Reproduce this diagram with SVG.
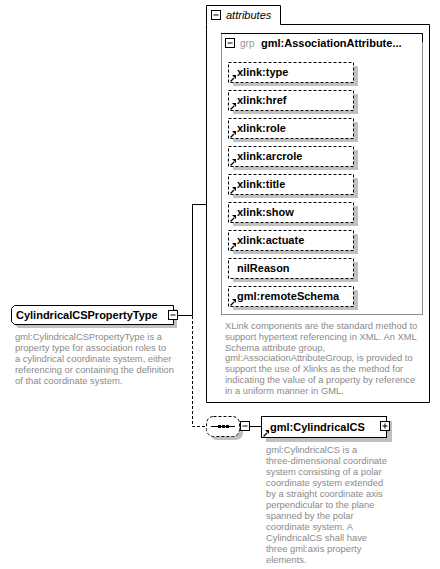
<svg xmlns="http://www.w3.org/2000/svg" xmlns:xlink="http://www.w3.org/1999/xlink" width="440" height="569" viewBox="0 0 440 569">
<style>
  .lbl { font-family: "Liberation Sans", Arial, sans-serif; font-size: 11px; font-weight: bold; fill: #000; }
  .desc { font-family: "Liberation Sans", Arial, sans-serif; font-size: 9.4px; fill: #8a8a8a; }
  .attr { fill: #fff; stroke: #000; stroke-width: 1; stroke-dasharray: 3,2; }
  .shadow { fill: #c0c0c0; }
  .btn { fill: #fff; stroke: #000; stroke-width: 1; }
  .ln { stroke: #000; stroke-width: 1; fill: none; }
  .dash { stroke: #000; stroke-width: 1; fill: none; stroke-dasharray: 3,2; }
</style>
<defs>
  <g id="ref">
    <path d="M0.5,6.5 L4,3" stroke="#000" stroke-width="1.3" fill="none"/>
    <polygon points="2,0 6,0 6,4" fill="#000"/>
  </g>
  <g id="minus">
    <rect x="0.5" y="0.5" width="9" height="9" class="btn"/>
    <path d="M2.5,5 H7.5" stroke="#000" stroke-width="1"/>
  </g>
  <g id="plus">
    <rect x="0.5" y="0.5" width="9" height="9" class="btn"/>
    <path d="M2.5,5 H7.5 M5,2.5 V7.5" stroke="#000" stroke-width="1"/>
  </g>
</defs>
<rect width="440" height="569" fill="#fff"/>

<g id="connectors">
  <path class="ln" d="M178,315.5 H192.5 V204.5 H206"/>
  <path class="dash" d="M192.5,316 V426.5 H206"/>
  <path class="ln" d="M250,426.5 H261"/>
</g>

<g id="attributes">
  <path d="M206.5,24.5 V5.5 H280.5 V24.5 H429.5 V402.5 H206.5 Z" fill="#fff" stroke="#000" stroke-width="1"/>
  <use href="#minus" x="211" y="10"/>
  <text x="226" y="19" font-family="Liberation Sans, Arial, sans-serif" font-size="11" font-style="italic">attributes</text>
  <text class="desc" x="225" y="329">XLink components are the standard method to</text>
  <text class="desc" x="225" y="339.8">support hypertext referencing in XML. An XML</text>
  <text class="desc" x="225" y="350.6">Schema attribute group,</text>
  <text class="desc" x="225" y="361.4">gml:AssociationAttributeGroup, is provided to</text>
  <text class="desc" x="225" y="372.2">support the use of Xlinks as the method for</text>
  <text class="desc" x="225" y="383">indicating the value of a property by reference</text>
  <text class="desc" x="225" y="393.8">in a uniform manner in GML.</text>
</g>

<g id="grp-AssociationAttributeGroup">
  <rect x="221.5" y="33.5" width="201" height="281" fill="#fff" stroke="#8c8c8c" stroke-width="1"/>
  <path d="M221,33.5 H422.5 V42" stroke="#000" stroke-width="1" fill="none"/>
  <use href="#minus" x="225" y="38"/>
  <text x="240" y="47" font-family="Liberation Sans, Arial, sans-serif" font-size="10" fill="#999">grp</text>
  <text class="lbl" x="261" y="47">gml:AssociationAttribute...</text>
</g>

<g id="attr-xlink-type">
  <rect class="shadow" x="233" y="66" width="125" height="20"/>
  <rect class="attr" x="228.5" y="62.5" width="125" height="20"/>
  <use href="#ref" x="230" y="75"/>
  <text class="lbl" x="237" y="76">xlink:type</text>
</g>
<g id="attr-xlink-href">
  <rect class="shadow" x="233" y="94" width="125" height="20"/>
  <rect class="attr" x="228.5" y="90.5" width="125" height="20"/>
  <use href="#ref" x="230" y="103"/>
  <text class="lbl" x="237" y="104">xlink:href</text>
</g>
<g id="attr-xlink-role">
  <rect class="shadow" x="233" y="122" width="125" height="20"/>
  <rect class="attr" x="228.5" y="118.5" width="125" height="20"/>
  <use href="#ref" x="230" y="131"/>
  <text class="lbl" x="237" y="132">xlink:role</text>
</g>
<g id="attr-xlink-arcrole">
  <rect class="shadow" x="233" y="150" width="125" height="20"/>
  <rect class="attr" x="228.5" y="146.5" width="125" height="20"/>
  <use href="#ref" x="230" y="159"/>
  <text class="lbl" x="237" y="160">xlink:arcrole</text>
</g>
<g id="attr-xlink-title">
  <rect class="shadow" x="233" y="178" width="125" height="20"/>
  <rect class="attr" x="228.5" y="174.5" width="125" height="20"/>
  <use href="#ref" x="230" y="187"/>
  <text class="lbl" x="237" y="188">xlink:title</text>
</g>
<g id="attr-xlink-show">
  <rect class="shadow" x="233" y="206" width="125" height="20"/>
  <rect class="attr" x="228.5" y="202.5" width="125" height="20"/>
  <use href="#ref" x="230" y="215"/>
  <text class="lbl" x="237" y="216">xlink:show</text>
</g>
<g id="attr-xlink-actuate">
  <rect class="shadow" x="233" y="234" width="125" height="20"/>
  <rect class="attr" x="228.5" y="230.5" width="125" height="20"/>
  <use href="#ref" x="230" y="243"/>
  <text class="lbl" x="237" y="244">xlink:actuate</text>
</g>
<g id="attr-nilReason">
  <rect class="shadow" x="233" y="262" width="125" height="20"/>
  <rect class="attr" x="228.5" y="258.5" width="125" height="20"/>
  <text class="lbl" x="237" y="272">nilReason</text>
</g>
<g id="attr-gml-remoteSchema">
  <rect class="shadow" x="233" y="290" width="125" height="20"/>
  <rect class="attr" x="228.5" y="286.5" width="125" height="20"/>
  <use href="#ref" x="230" y="299"/>
  <text class="lbl" x="237" y="300">gml:remoteSchema</text>
</g>

<g id="CylindricalCSPropertyType">
  <path class="shadow" d="M18,309 H177 V328 H18 L15,325 V312 Z"/>
  <path d="M14.5,305.5 H173.5 V324.5 H14.5 L11.5,321.5 V308.5 Z" fill="#fff" stroke="#000" stroke-width="1"/>
  <text class="lbl" x="16" y="319">CylindricalCSPropertyType</text>
  <use href="#minus" x="168" y="310"/>
  <text class="desc" x="15" y="340">gml:CylindricalCSPropertyType is a</text>
  <text class="desc" x="15" y="351">property type for association roles to</text>
  <text class="desc" x="15" y="362">a cylindrical coordinate system, either</text>
  <text class="desc" x="15" y="373">referencing or containing the definition</text>
  <text class="desc" x="15" y="384">of that coordinate system.</text>
</g>

<g id="sequence">
  <rect class="shadow" x="210" y="420" width="33" height="20" rx="7"/>
  <rect x="206.5" y="416.5" width="33" height="20" rx="7" fill="#fff" stroke="#000" stroke-width="1" stroke-dasharray="3,2"/>
  <path d="M211,426.5 H235" stroke="#000" stroke-width="1"/>
  <rect x="218" y="425" width="3" height="3" fill="#000"/>
  <rect x="222" y="425" width="3" height="3" fill="#000"/>
  <rect x="226" y="425" width="3" height="3" fill="#000"/>
  <use href="#minus" x="240" y="421"/>
</g>

<g id="gml-CylindricalCS">
  <rect class="shadow" x="266" y="421" width="126" height="21"/>
  <rect x="261.5" y="416.5" width="125" height="21" fill="#fff" stroke="#000" stroke-width="1"/>
  <use href="#ref" x="263" y="430"/>
  <text class="lbl" x="270" y="431">gml:CylindricalCS</text>
  <use href="#plus" x="380" y="421"/>
  <text class="desc" x="266" y="453">gml:CylindricalCS is a</text>
  <text class="desc" x="266" y="464">three-dimensional coordinate</text>
  <text class="desc" x="266" y="475">system consisting of a polar</text>
  <text class="desc" x="266" y="486">coordinate system extended</text>
  <text class="desc" x="266" y="497">by a straight coordinate axis</text>
  <text class="desc" x="266" y="508">perpendicular to the plane</text>
  <text class="desc" x="266" y="519">spanned by the polar</text>
  <text class="desc" x="266" y="530">coordinate system. A</text>
  <text class="desc" x="266" y="541">CylindricalCS shall have</text>
  <text class="desc" x="266" y="552">three gml:axis property</text>
  <text class="desc" x="266" y="563">elements.</text>
</g>
</svg>
